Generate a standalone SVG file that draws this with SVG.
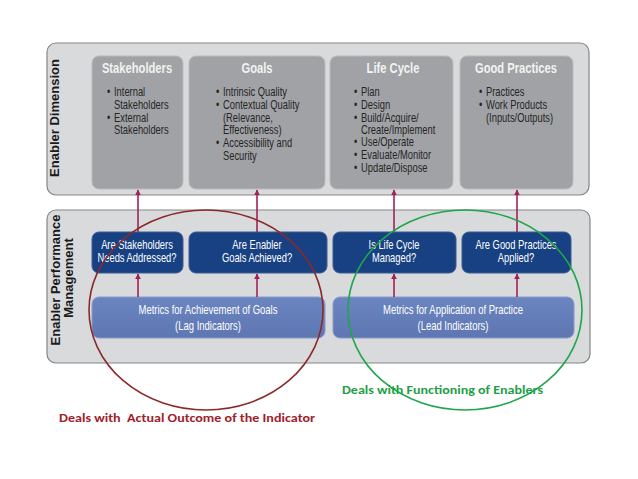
<svg xmlns="http://www.w3.org/2000/svg" width="638" height="479" viewBox="0 0 638 479">
<defs>
<marker id="ah" viewBox="0 0 10 10" refX="9" refY="5" markerWidth="6" markerHeight="7" markerUnits="userSpaceOnUse" orient="auto">
<path d="M0,0 L10,5 L0,10 z" fill="#a3205c"/>
</marker>
<linearGradient id="mg" x1="0" y1="0" x2="0" y2="1">
<stop offset="0" stop-color="#6b85c0"/>
<stop offset="1" stop-color="#5e77b2"/>
</linearGradient>
</defs>
<style>
.panel{fill:#d9dadc;stroke:#858585;stroke-width:1.2}
.gbox{fill:#a0a2a5;stroke:#b9babc;stroke-width:1}
.dbox{fill:#174183;stroke:#3a5c95;stroke-width:1}
.mbox{fill:url(#mg);stroke:#8a9acb;stroke-width:1}
.side{font-family:"Liberation Sans",Arial,sans-serif;font-weight:bold;font-size:13px;fill:#1a1a1a}
.title{font-family:"Liberation Sans",Arial,sans-serif;font-weight:bold;font-size:14px;fill:#f2f2f2;text-anchor:middle}
.bul{font-family:"Liberation Sans",Arial,sans-serif;font-size:12px;fill:#262626}
.wt{font-family:"Liberation Sans",Arial,sans-serif;font-size:12px;fill:#ffffff;text-anchor:middle}
.arr{stroke:#a3205c;stroke-width:1.6;fill:none}
.note{font-family:Carlito,Calibri,"Liberation Sans",sans-serif;font-weight:bold;font-size:11.5px}
</style>

<g id="enabler-dimension">
<rect class="panel" x="47" y="43" width="542" height="152" rx="9"/>
<text class="side" transform="translate(59,118) rotate(-90)" text-anchor="middle">Enabler Dimension</text>
</g>

<g id="stakeholders">
<rect class="gbox" x="92" y="56" width="91" height="133" rx="7"/>
<text class="title" transform="translate(137,0) scale(0.8,1)" x="0" y="73">Stakeholders</text>
<text class="bul" transform="translate(114,0) scale(0.78,1)"><tspan x="-9" y="96">•</tspan><tspan x="0" y="96">Internal</tspan><tspan x="0" y="109">Stakeholders</tspan><tspan x="-9" y="122">•</tspan><tspan x="0" y="122">External</tspan><tspan x="0" y="134">Stakeholders</tspan></text>
</g>

<g id="goals">
<rect class="gbox" x="189" y="56" width="136" height="133" rx="7"/>
<text class="title" transform="translate(257,0) scale(0.8,1)" x="0" y="73">Goals</text>
<text class="bul" transform="translate(223,0) scale(0.78,1)"><tspan x="-9" y="96">•</tspan><tspan x="0" y="96">Intrinsic Quality</tspan><tspan x="-9" y="109">•</tspan><tspan x="0" y="109">Contextual Quality</tspan><tspan x="0" y="122">(Relevance,</tspan><tspan x="0" y="134">Effectiveness)</tspan><tspan x="-9" y="147">•</tspan><tspan x="0" y="147">Accessibility and</tspan><tspan x="0" y="160">Security</tspan></text>
</g>

<g id="life-cycle">
<rect class="gbox" x="330" y="56" width="123" height="133" rx="7"/>
<text class="title" transform="translate(393,0) scale(0.8,1)" x="0" y="73">Life Cycle</text>
<text class="bul" transform="translate(361,0) scale(0.78,1)"><tspan x="-9" y="96">•</tspan><tspan x="0" y="96">Plan</tspan><tspan x="-9" y="109">•</tspan><tspan x="0" y="109">Design</tspan><tspan x="-9" y="122">•</tspan><tspan x="0" y="122">Build/Acquire/</tspan><tspan x="0" y="134">Create/Implement</tspan><tspan x="-9" y="146">•</tspan><tspan x="0" y="146">Use/Operate</tspan><tspan x="-9" y="159">•</tspan><tspan x="0" y="159">Evaluate/Monitor</tspan><tspan x="-9" y="172">•</tspan><tspan x="0" y="172">Update/Dispose</tspan></text>
</g>

<g id="good-practices">
<rect class="gbox" x="460" y="56" width="113" height="133" rx="7"/>
<text class="title" transform="translate(516,0) scale(0.8,1)" x="0" y="73">Good Practices</text>
<text class="bul" transform="translate(486,0) scale(0.78,1)"><tspan x="-9" y="96">•</tspan><tspan x="0" y="96">Practices</tspan><tspan x="-9" y="109">•</tspan><tspan x="0" y="109">Work Products</tspan><tspan x="0" y="122">(Inputs/Outputs)</tspan></text>
</g>

<g id="enabler-performance-management">
<rect class="panel" x="47" y="210" width="543" height="153" rx="9"/>
<text class="side" transform="translate(60,280) rotate(-90)" text-anchor="middle">Enabler Performance</text>
<text class="side" transform="translate(73,278) rotate(-90)" text-anchor="middle">Management</text>
</g>

<g id="q-stakeholders">
<rect class="dbox" x="92" y="232" width="91" height="41" rx="7"/>
<text class="wt" transform="translate(137,0) scale(0.78,1)"><tspan x="0" y="249">Are Stakeholders</tspan><tspan x="0" y="262">Needs Addressed?</tspan></text>
</g>

<g id="q-goals">
<rect class="dbox" x="189" y="232" width="138" height="41" rx="7"/>
<text class="wt" transform="translate(257,0) scale(0.78,1)"><tspan x="0" y="249">Are Enabler</tspan><tspan x="0" y="262">Goals Achieved?</tspan></text>
</g>

<g id="q-life-cycle">
<rect class="dbox" x="333" y="232" width="123" height="41" rx="7"/>
<text class="wt" transform="translate(394,0) scale(0.78,1)"><tspan x="0" y="249">Is Life Cycle</tspan><tspan x="0" y="262">Managed?</tspan></text>
</g>

<g id="q-good-practices">
<rect class="dbox" x="462" y="232" width="109" height="41" rx="7"/>
<text class="wt" transform="translate(516,0) scale(0.78,1)"><tspan x="0" y="249">Are Good Practices</tspan><tspan x="0" y="262">Applied?</tspan></text>
</g>

<g id="metrics-lag">
<rect class="mbox" x="92" y="297" width="233" height="41" rx="7"/>
<text class="wt" transform="translate(208,0) scale(0.79,1)"><tspan x="0" y="314">Metrics for Achievement of Goals</tspan><tspan x="0" y="330">(Lag Indicators)</tspan></text>
</g>

<g id="metrics-lead">
<rect class="mbox" x="333" y="297" width="241" height="41" rx="7"/>
<text class="wt" transform="translate(453,0) scale(0.79,1)"><tspan x="0" y="314">Metrics for Application of Practice</tspan><tspan x="0" y="330">(Lead Indicators)</tspan></text>
</g>

<g id="connectors">
<line class="arr" x1="138" y1="232" x2="138" y2="190" marker-end="url(#ah)"/>
<line class="arr" x1="257" y1="232" x2="257" y2="190" marker-end="url(#ah)"/>
<line class="arr" x1="394" y1="232" x2="394" y2="190" marker-end="url(#ah)"/>
<line class="arr" x1="517" y1="232" x2="517" y2="190" marker-end="url(#ah)"/>
<line class="arr" x1="138" y1="297" x2="138" y2="274" marker-end="url(#ah)"/>
<line class="arr" x1="257" y1="297" x2="257" y2="274" marker-end="url(#ah)"/>
<line class="arr" x1="394" y1="297" x2="394" y2="274" marker-end="url(#ah)"/>
<line class="arr" x1="517" y1="297" x2="517" y2="274" marker-end="url(#ah)"/>
</g>

<g id="lag-annotation">
<ellipse cx="206" cy="310" rx="117" ry="100" fill="none" stroke="#8b2a2a" stroke-width="1.6"/>
<text class="note" x="59" y="422" fill="#a0202a" textLength="256" lengthAdjust="spacingAndGlyphs" xml:space="preserve">Deals with  Actual Outcome of the Indicator</text>
</g>

<g id="lead-annotation">
<ellipse cx="465" cy="310" rx="117" ry="100" fill="none" stroke="#1fa64a" stroke-width="1.6"/>
<text class="note" x="342" y="394" fill="#1f9e48" textLength="201" lengthAdjust="spacingAndGlyphs">Deals with Functioning of Enablers</text>
</g>
</svg>
